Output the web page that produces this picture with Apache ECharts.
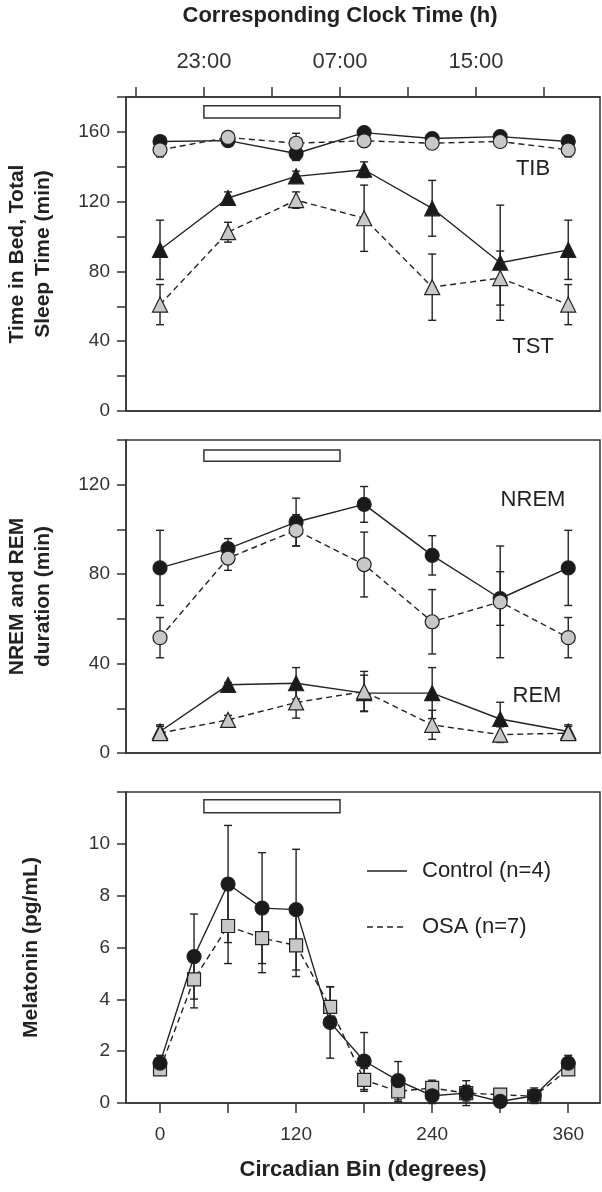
<!DOCTYPE html>
<html><head><meta charset="utf-8">
<script src="https://cdn.jsdelivr.net/npm/echarts@6/dist/echarts.min.js"></script>
<style>html,body{margin:0;padding:0;background:#fff;}#c{width:602px;height:1192px;}</style>
</head><body><div id="c"></div>
<script>
// ---------- data ----------
const bins7 = [0, 60, 120, 180, 240, 300, 360];
const bins13 = [0, 30, 60, 90, 120, 150, 180, 210, 240, 270, 300, 330, 360];
const xTickDegrees = [0, 60, 120, 180, 240, 300, 360];
const xLabelDegrees = [0, 120, 240, 360];

const tibControl    = [154.5, 155.0, 147.6, 159.6, 156.2, 157.3, 154.5];
const tibControlErr = [2.5, 2, 4, 2, 2, 2, 2.5];
const tibOSA        = [149.7, 156.8, 153.5, 154.9, 153.5, 154.5, 149.7];
const tibOSAErr     = [4, 2, 5.7, 2.5, 2.5, 2.5, 4];
const tstControl    = [92.4, 122.1, 134.5, 138.3, 116.2, 85.0, 92.4];
const tstControlErr = [17, 3.5, 3, 4.5, 16, 33, 17];
const tstOSA        = [61.0, 102.5, 120.9, 110.5, 71.0, 76.2, 61.0];
const tstOSAErr     = [11.5, 5.7, 4.7, 19, 19, 15.5, 11.5];

const nremControl    = [82.8, 91.4, 103.3, 111.2, 88.4, 69.1, 82.8];
const nremControlErr = [16.8, 4.5, 10.7, 8, 8.8, 12, 16.8];
const nremOSA        = [51.6, 87.2, 99.6, 84.3, 58.7, 67.6, 51.6];
const nremOSAErr     = [9, 5.5, 7, 14.5, 14.4, 25, 9];
const remControl     = [9.6, 30.5, 31.2, 26.8, 26.8, 15.2, 9.6];
const remControlErr  = [3, 1, 7, 8, 11.4, 7.5, 3];
const remOSA         = [8.9, 14.8, 22.6, 27.5, 12.6, 8.2, 8.9];
const remOSAErr      = [3, 2, 7, 9, 6.5, 3.5, 3];

const melControl    = [1.54, 5.65, 8.45, 7.52, 7.46, 3.11, 1.62, 0.86, 0.28, 0.38, 0.06, 0.28, 1.54];
const melControlErr = [0.3, 1.64, 2.26, 2.14, 2.33, 1.38, 1.1, 0.74, 0.3, 0.48, 0.15, 0.3, 0.3];
const melOSA        = [1.30, 4.77, 6.83, 6.36, 6.08, 3.71, 0.89, 0.45, 0.58, 0.38, 0.32, 0.26, 1.30];
const melOSAErr     = [0.2, 1.1, 1.45, 1.33, 1.2, 0.77, 0.44, 0.4, 0.3, 0.3, 0.15, 0.2, 0.2];

const clockAtZeroDeg = 20.42;           // clock hour at circadian 0 deg
const clockTickHours = [19, 23, 27, 31, 35, 39, 43];
const clockLabelHours = [23, 31, 39];
const sleepStartHour = 23, sleepEndHour = 31;
const sleepBarTop = [168, 175];
const sleepBarMid = [130.5, 135.5];
const sleepBarBot = [11.2, 11.7];

// ---------- layout ----------
const degMin = -30, degMax = 388;
const FONT = '"Liberation Sans", Arial, sans-serif';
const INK = '#222';
const hourToDeg = h => (h - clockAtZeroDeg) * 15;

function pairs(xs, ys) { return xs.map((x, i) => [x, ys[i]]); }

function errSeries(idx, xs, vals, errs, z) {
  return {
    type: 'custom', xAxisIndex: idx, yAxisIndex: idx, z: z, silent: true,
    data: xs.map((x, i) => [x, vals[i] - errs[i], vals[i] + errs[i]]),
    encode: { x: 0, y: [1, 2] },
    renderItem: function (params, api) {
      const x = api.value(0);
      const lo = api.coord([x, api.value(1)]);
      const hi = api.coord([x, api.value(2)]);
      const w = 4, st = { stroke: INK, lineWidth: 1.4 };
      return { type: 'group', children: [
        { type: 'line', shape: { x1: lo[0], y1: lo[1], x2: hi[0], y2: hi[1] }, style: st },
        { type: 'line', shape: { x1: lo[0] - w, y1: lo[1], x2: lo[0] + w, y2: lo[1] }, style: st },
        { type: 'line', shape: { x1: hi[0] - w, y1: hi[1], x2: hi[0] + w, y2: hi[1] }, style: st }
      ]};
    }
  };
}

function lineSeries(idx, xs, vals, symbol, size, fill, dashed, z, bar) {
  const s = {
    type: 'line', xAxisIndex: idx, yAxisIndex: idx, z: z, silent: true,
    data: pairs(xs, vals),
    symbol: symbol, symbolSize: size, showAllSymbol: true,
    itemStyle: { color: fill, borderColor: INK, borderWidth: 1.2, opacity: 1 },
    lineStyle: { color: INK, width: 1.4, type: dashed ? [6, 4] : 'solid' }
  };
  if (bar) {
    s.markArea = {
      silent: true,
      itemStyle: { color: '#fff', borderColor: '#333', borderWidth: 1.5 },
      data: [[{ coord: [hourToDeg(sleepStartHour), bar[0]] }, { coord: [hourToDeg(sleepEndHour), bar[1]] }]]
    };
  }
  return s;
}

const BLACK = '#1a1a1a', GREY = '#c8c8c8';

const grids = [
  { left: 126, right: 2, top: 97, height: 314 },
  { left: 126, right: 2, top: 440, height: 313 },
  { left: 126, right: 2, top: 792, height: 311 }
].map(g => Object.assign(g, { show: true, borderColor: '#333', borderWidth: 1.5, backgroundColor: 'transparent',
  containLabel: false, outerBoundsMode: 'none' }));

function degAxis(idx, withTicks) {
  return {
    gridIndex: idx, type: 'value', min: degMin, max: degMax,
    axisLine: { show: true, onZero: false, lineStyle: { color: '#333', width: 1.5 } },
    axisTick: withTicks ? { show: true, customValues: xTickDegrees, length: 10, lineStyle: { color: '#333', width: 1.5 } } : { show: false },
    axisLabel: withTicks ? { show: true, customValues: xLabelDegrees, fontSize: 19, color: '#333', margin: 22, fontFamily: FONT } : { show: false },
    splitLine: { show: false },
    name: withTicks ? 'Circadian Bin (degrees)' : '',
    nameLocation: 'middle', nameGap: 56,
    nameTextStyle: { fontSize: 22, fontWeight: 'bold', color: INK, fontFamily: FONT }
  };
}

function valAxis(idx, max, interval, labelEvery, labelMax, name, gap) {
  return {
    gridIndex: idx, type: 'value', min: 0, max: max, interval: interval,
    axisLine: { show: true, onZero: false, lineStyle: { color: '#333', width: 1.5 } },
    axisTick: { show: true, length: 9, lineStyle: { color: '#333', width: 1.5 } },
    axisLabel: {
      fontSize: 19, color: '#333', margin: 16, fontFamily: FONT,
      formatter: v => (Math.abs(v / labelEvery - Math.round(v / labelEvery)) < 1e-6 && v <= labelMax) ? String(v) : ''
    },
    splitLine: { show: false },
    name: name, nameLocation: 'middle', nameRotate: 90, nameGap: gap,
    nameTextStyle: { fontSize: 21, fontWeight: 'bold', color: INK, lineHeight: 26, fontFamily: FONT }
  };
}

const xAxes = [degAxis(0, false), degAxis(1, false), degAxis(2, true), {
  gridIndex: 0, type: 'value', position: 'top',
  min: clockAtZeroDeg + degMin / 15, max: clockAtZeroDeg + degMax / 15,
  axisLine: { show: true, onZero: false, lineStyle: { color: '#333', width: 1.5 } },
  axisTick: { show: true, customValues: clockTickHours, length: 10, lineStyle: { color: '#333', width: 1.5 } },
  axisLabel: { show: true, customValues: clockLabelHours, fontSize: 22, color: '#333', margin: 24, fontFamily: FONT,
    formatter: v => String(Math.round(v) % 24).padStart(2, '0') + ':00' },
  splitLine: { show: false }
}];

const yAxes = [
  valAxis(0, 180, 20, 40, 160, 'Time in Bed, Total\nSleep Time (min)', 70),
  valAxis(1, 140, 20, 40, 120, 'NREM and REM\nduration (min)', 70),
  valAxis(2, 12, 2, 2, 10, 'Melatonin (pg/mL)', 82)
];

const series = [
  // top panel
  errSeries(0, bins7, tibControl, tibControlErr, 2),
  errSeries(0, bins7, tibOSA, tibOSAErr, 2),
  errSeries(0, bins7, tstControl, tstControlErr, 2),
  errSeries(0, bins7, tstOSA, tstOSAErr, 2),
  lineSeries(0, bins7, tibControl, 'circle', 14, BLACK, false, 3, sleepBarTop),
  lineSeries(0, bins7, tstControl, 'triangle', 15, BLACK, false, 3),
  lineSeries(0, bins7, tibOSA, 'circle', 14, GREY, true, 4),
  lineSeries(0, bins7, tstOSA, 'triangle', 15, GREY, true, 4),
  // middle panel
  errSeries(1, bins7, nremControl, nremControlErr, 2),
  errSeries(1, bins7, nremOSA, nremOSAErr, 2),
  errSeries(1, bins7, remControl, remControlErr, 2),
  errSeries(1, bins7, remOSA, remOSAErr, 2),
  lineSeries(1, bins7, nremControl, 'circle', 14, BLACK, false, 3, sleepBarMid),
  lineSeries(1, bins7, remControl, 'triangle', 15, BLACK, false, 3),
  lineSeries(1, bins7, nremOSA, 'circle', 14, GREY, true, 4),
  lineSeries(1, bins7, remOSA, 'triangle', 15, GREY, true, 4),
  // bottom panel
  errSeries(2, bins13, melControl, melControlErr, 2),
  errSeries(2, bins13, melOSA, melOSAErr, 2),
  lineSeries(2, bins13, melOSA, 'rect', 13, GREY, true, 3, sleepBarBot),
  lineSeries(2, bins13, melControl, 'circle', 14, BLACK, false, 4)
];

const txt = (x, y, t, size, weight, align) => ({
  type: 'text', x: x, y: y, silent: true,
  style: { text: t, font: (weight || 'normal') + ' ' + size + 'px ' + FONT, fill: INK, textAlign: align || 'center', textVerticalAlign: 'middle' }
});

const graphic = [
  txt(340, 16, 'Corresponding Clock Time (h)', 22, 'bold'),
  txt(533, 169, 'TIB', 22),
  txt(533, 347, 'TST', 22),
  txt(533, 500, 'NREM', 22),
  txt(537, 696, 'REM', 22),
  { type: 'line', silent: true, shape: { x1: 367, y1: 871, x2: 407, y2: 871 }, style: { stroke: INK, lineWidth: 1.4 } },
  txt(422, 871, 'Control (n=4)', 22, 'normal', 'left'),
  { type: 'line', silent: true, shape: { x1: 367, y1: 927, x2: 407, y2: 927 }, style: { stroke: INK, lineWidth: 1.4, lineDash: [6, 4] } },
  txt(422, 927, 'OSA (n=7)', 22, 'normal', 'left')
];

const chart = echarts.init(document.getElementById('c'), null, { renderer: 'canvas' });
chart.setOption({
  animation: false,
  backgroundColor: '#fff',
  textStyle: { fontFamily: FONT },
  grid: grids, xAxis: xAxes, yAxis: yAxes, series: series, graphic: graphic
});
</script></body></html>
